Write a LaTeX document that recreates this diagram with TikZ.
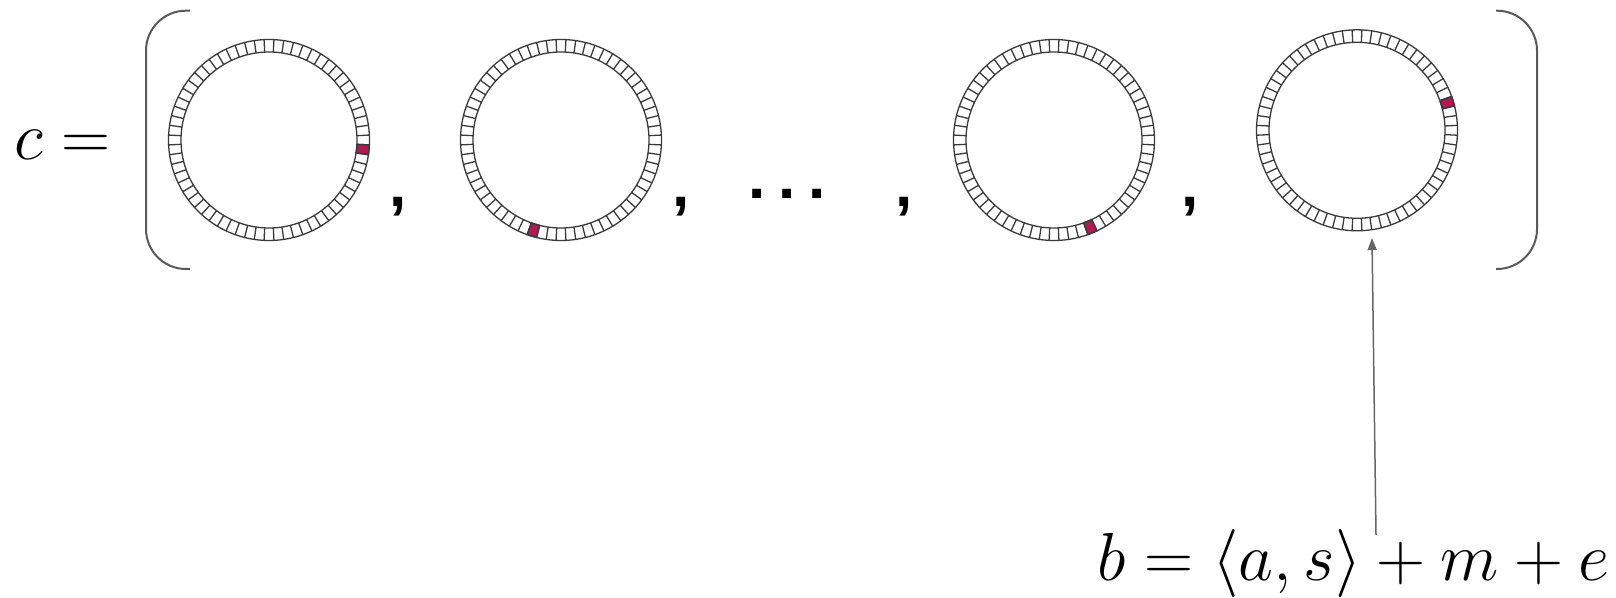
\RequirePackage{fix-cm}
\documentclass[tikz,border=0pt]{standalone}
\usepackage{amsmath}
\usepackage{fontspec}
\newfontfamily\sepfont{Liberation Sans}
\usetikzlibrary{arrows.meta, positioning}
\definecolor{ringline}{HTML}{3A3A3A}
\definecolor{hitred}{HTML}{B5174F}

\begin{document}
\begin{tikzpicture}[
                x=0.5pt, y=0.5pt,
                ring/.style={draw=ringline, line width=0.65pt},
                hit/.style={fill=hitred, draw=ringline, line width=0.65pt},
                bracket/.style={draw=black!65, line width=1pt, rounded corners=20pt},
                sep/.style={inner sep=0pt, anchor=base, font=\fontsize{31}{36}\selectfont\sepfont\bfseries},
                formula/.style={inner sep=0pt, font=\fontsize{34}{40}\selectfont},
                arrow/.style={-{Triangle[length=6pt, width=4.5pt]}, draw=black!60, line width=0.75pt}
            ]

\useasboundingbox (0,0) rectangle (1616,-598);

\node[formula, anchor=base west] (lhs) at (14,-160) {$c =$};

% brackets
            \draw[bracket] (190,-10.7) -- (146,-10.7) -- (146,-269) -- (190,-269);
            \draw[bracket] (1496,-10.7) -- (1537,-10.7) -- (1537,-269) -- (1496,-269);

% rings with 64 cells, one of them marked
            \foreach \name/\cx/\cy/\red in {ringA/269/140/63, ringB/561/140/45, ringC/1054/140/52, ringD/1357/130.3/3} {
                \coordinate (\name) at (\cx,-\cy);
                \begin{scope}[shift={(\name)}]
                    \fill[hit] (\red*5.625-2.8125:88) arc (\red*5.625-2.8125:\red*5.625+2.8125:88)
                        -- (\red*5.625+2.8125:100.5) arc (\red*5.625+2.8125:\red*5.625-2.8125:100.5) -- cycle;
                    \draw[ring] (0,0) circle (88) (0,0) circle (100.5);
                    \foreach \k in {0,...,63}
                        \draw[ring] (\k*5.625+2.8125:88) -- (\k*5.625+2.8125:100.5);
                \end{scope}
            }

\node[sep] (comA) at (398.5,-207) {,};
            \node[sep] (comB) at (681,-207) {,};
            \node[sep] (dots) at (787,-199) {.\hspace{6.5pt}.\hspace{6.5pt}.};
            \node[sep] (comC) at (904,-207) {,};
            \node[sep] (comD) at (1190,-207) {,};

\node[formula, anchor=base west] (bexpr) at (1097,-580) {$b = \langle a, s\rangle + m + e$};
            \coordinate (foot) at (1376,-535);
            \coordinate (tip) at (1372,-238);
            \draw[arrow] (foot) -- (tip);

            \end{tikzpicture}
\end{document}
